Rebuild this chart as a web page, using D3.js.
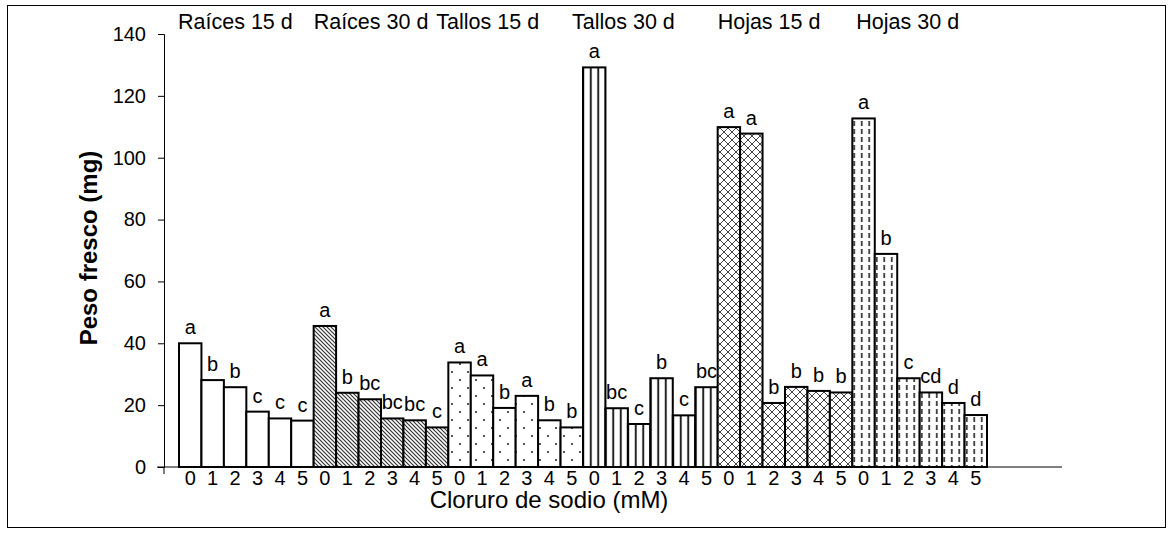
<!DOCTYPE html>
<html>
<head>
<meta charset="utf-8">
<script src="https://cdn.jsdelivr.net/npm/d3@7"></script>
<style>
  body { margin: 0; background: #fff; }
  text { font-family: "Liberation Sans", Arial, sans-serif; fill: #000; }
</style>
</head>
<body>
<div id="chart"></div>
<script>
// Groups (organ + days) and NaCl levels
const groups = ['Raíces 15 d', 'Raíces 30 d', 'Tallos 15 d', 'Tallos 30 d', 'Hojas 15 d', 'Hojas 30 d'];
const levels = ['0', '1', '2', '3', '4', '5'];

// Fresh weight (mg) per group, one value per level
const raices15 = [40, 28.1, 25.8, 17.9, 15.7, 15];
const raices30 = [45.6, 24, 21.9, 15.7, 15.1, 12.8];
const tallos15 = [33.8, 29.6, 19.1, 23, 15.1, 12.8];
const tallos30 = [129.2, 19, 13.9, 28.7, 16.7, 25.8];
const hojas15 = [109.9, 107.8, 20.7, 25.9, 24.6, 24.1];
const hojas30 = [112.7, 68.9, 28.7, 24.1, 20.7, 16.8];

// Significance letters
const letrasRaices15 = ['a', 'b', 'b', 'c', 'c', 'c'];
const letrasRaices30 = ['a', 'b', 'bc', 'bc', 'bc', 'c'];
const letrasTallos15 = ['a', 'a', 'b', 'a', 'b', 'b'];
const letrasTallos30 = ['a', 'bc', 'c', 'b', 'c', 'bc'];
const letrasHojas15 = ['a', 'a', 'b', 'b', 'b', 'b'];
const letrasHojas30 = ['a', 'b', 'c', 'cd', 'd', 'd'];

const yTicks = [0, 20, 40, 60, 80, 100, 120, 140];

const seriesValues = [raices15, raices30, tallos15, tallos30, hojas15, hojas30];
const seriesLetters = [letrasRaices15, letrasRaices30, letrasTallos15, letrasTallos30, letrasHojas15, letrasHojas30];
const patterns = ['none', 'diag', 'dots', 'vlines', 'cross', 'dashes'];
// group titles were placed by hand in the original, nudge them a bit
const titleNudge = [-1, 0, -12, -11, 0, 4];

const data = [];
groups.forEach((g, gi) => {
    levels.forEach((lv, li) => {
        data.push({ key: gi + '-' + li, group: gi, level: lv, value: seriesValues[gi][li], letter: seriesLetters[gi][li] });
    });
});

const W = 1173, H = 534;
const svg = d3.select('#chart').append('svg')
    .attr('width', W)
    .attr('height', H);

// Patterns
const defs = svg.append('defs');
const pd = defs.append('pattern').attr('id', 'diag').attr('patternUnits', 'userSpaceOnUse')
    .attr('width', 4).attr('height', 4);
pd.append('rect').attr('width', 4).attr('height', 4).attr('fill', '#fff');
pd.append('path').attr('d', 'M-1,-1L5,5M-1,3L1,5M3,-1L5,1').attr('stroke', '#333').attr('stroke-width', 1.2);

const pdot = defs.append('pattern').attr('id', 'dots').attr('patternUnits', 'userSpaceOnUse')
    .attr('width', 16).attr('height', 16);
pdot.append('rect').attr('width', 16).attr('height', 16).attr('fill', '#fff');
pdot.append('rect').attr('x', 3).attr('y', 3).attr('width', 2).attr('height', 2).attr('fill', '#555');
pdot.append('rect').attr('x', 11).attr('y', 11).attr('width', 2).attr('height', 2).attr('fill', '#555');

const pv = defs.append('pattern').attr('id', 'vlines').attr('patternUnits', 'userSpaceOnUse')
    .attr('width', 7.5).attr('height', 8).attr('x', 2);
pv.append('rect').attr('width', 7.5).attr('height', 8).attr('fill', '#fff');
pv.append('line').attr('x1', 3.75).attr('x2', 3.75).attr('y1', 0).attr('y2', 8).attr('stroke', '#222').attr('stroke-width', 2);

const pc = defs.append('pattern').attr('id', 'cross').attr('patternUnits', 'userSpaceOnUse')
    .attr('width', 8).attr('height', 8);
pc.append('rect').attr('width', 8).attr('height', 8).attr('fill', '#fff');
pc.append('path').attr('d', 'M0,0L8,8M8,0L0,8').attr('stroke', '#444').attr('stroke-width', 1);

const pdash = defs.append('pattern').attr('id', 'dashes').attr('patternUnits', 'userSpaceOnUse')
    .attr('width', 7.5).attr('height', 8).attr('x', 3);
pdash.append('rect').attr('width', 7.5).attr('height', 8).attr('fill', '#fff');
pdash.append('line').attr('x1', 3.75).attr('x2', 3.75).attr('y1', 1).attr('y2', 6).attr('stroke', '#222').attr('stroke-width', 1.6);

// Outer frame
svg.append('rect')
    .attr('x', 7.5).attr('y', 5.5)
    .attr('width', 1158).attr('height', 522)
    .attr('fill', 'none').attr('stroke', '#000').attr('stroke-width', 1);

const plotLeft = 164, plotRight = 1062;
const y = d3.scaleLinear().domain([0, 140]).range([467, 34]);
const x = d3.scaleBand()
    .domain(data.map(d => d.key))
    .range([179, 987])
    .padding(0);

// Y axis
svg.append('g')
    .attr('transform', `translate(${plotLeft},0)`)
    .call(d3.axisLeft(y).tickValues(yTicks).tickSize(6).tickPadding(12))
    .call(g => g.select('.domain').attr('stroke', '#000'))
    .call(g => g.selectAll('text').attr('font-size', 20).attr('font-family', '"Liberation Sans", Arial, sans-serif'));

// Bars
svg.append('g').selectAll('rect')
    .data(data)
    .join('rect')
    .attr('x', d => x(d.key))
    .attr('y', d => y(d.value))
    .attr('width', x.bandwidth())
    .attr('height', d => y(0) - y(d.value))
    .attr('fill', d => patterns[d.group] === 'none' ? '#fff' : `url(#${patterns[d.group]})`)
    .attr('stroke', '#000')
    .attr('stroke-width', 2);

// X axis line
svg.append('line')
    .attr('x1', plotLeft - 7).attr('x2', plotRight)
    .attr('y1', y(0)).attr('y2', y(0))
    .attr('stroke', '#000').attr('stroke-width', 1);
svg.append('line')
    .attr('x1', plotLeft).attr('x2', plotLeft)
    .attr('y1', y(0)).attr('y2', y(0) + 7)
    .attr('stroke', '#000').attr('stroke-width', 1);

// Category labels
svg.append('g').selectAll('text')
    .data(data)
    .join('text')
    .attr('x', d => x(d.key) + x.bandwidth() / 2)
    .attr('y', 485)
    .attr('text-anchor', 'middle')
    .attr('font-size', 20)
    .text(d => d.level);

// Significance letters
svg.append('g').selectAll('text')
    .data(data)
    .join('text')
    .attr('x', d => x(d.key) + x.bandwidth() / 2)
    .attr('y', d => y(d.value) - 9)
    .attr('text-anchor', 'middle')
    .attr('font-size', 20)
    .text(d => d.letter);

// Group titles
svg.append('g').selectAll('text')
    .data(groups)
    .join('text')
    .attr('x', (g, gi) => x(gi + '-0') + titleNudge[gi])
    .attr('y', 29)
    .attr('font-size', 21.5)
    .text(g => g);

// Axis titles
svg.append('text')
    .attr('transform', 'translate(97,248) rotate(-90)')
    .attr('text-anchor', 'middle')
    .attr('font-size', 24)
    .attr('font-weight', 'bold')
    .text('Peso fresco (mg)');

svg.append('text')
    .attr('x', 549)
    .attr('y', 508)
    .attr('text-anchor', 'middle')
    .attr('font-size', 24)
    .text('Cloruro de sodio (mM)');
</script>
</body>
</html>
